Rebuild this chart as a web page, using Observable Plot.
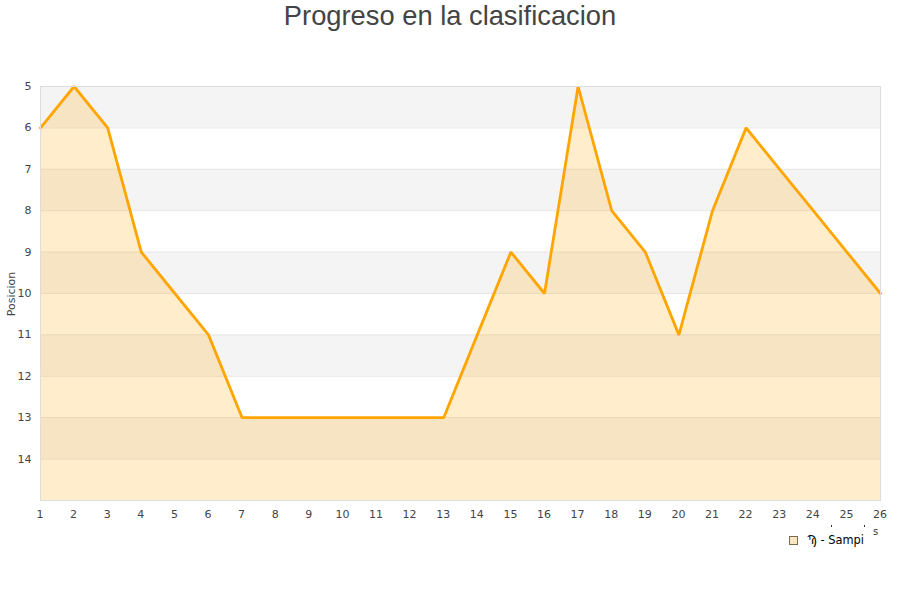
<!DOCTYPE html>
<html>
<head>
<meta charset="utf-8">
<script src="https://cdn.jsdelivr.net/npm/d3@7"></script>
<script src="https://cdn.jsdelivr.net/npm/@observablehq/plot@0.6"></script>
<style>
html,body{margin:0;padding:0;background:#fff;}
#wrap{position:relative;width:900px;height:600px;overflow:hidden;}
#title{position:absolute;left:0;top:0;width:900px;text-align:center;font:27.3px "Liberation Sans",Arial,sans-serif;color:#444;line-height:32px;}
#ylabel{position:absolute;left:10.5px;top:294px;transform:translate(-50%,-50%) rotate(-90deg);font:11px "DejaVu Sans",sans-serif;color:#444;white-space:nowrap;}
.leg{position:absolute;font:11.4px "DejaVu Sans",sans-serif;color:#000;white-space:nowrap;line-height:13px;}
#swatch{position:absolute;left:789px;top:536px;width:7px;height:7px;background:#fbe6c4;border:1px solid #7a6a50;}
.speck{position:absolute;width:1px;height:2px;background:#333;top:525px;}
svg{display:block;}
</style>
</head>
<body>
<div id="wrap">
<div id="chart"></div>
<div id="title">Progreso en la clasificacion</div>
<div id="ylabel">Posicion</div>
<div id="swatch"></div>
<div class="leg" style="left:807px;top:534px;">Ϡ - Sampi</div>
<div class="leg" style="left:873px;top:525px;font-size:10px;color:#333;">s</div>
<div class="speck" style="left:831px;"></div>
<div class="speck" style="left:864px;"></div>
</div>
<script>
const rounds = [1,2,3,4,5,6,7,8,9,10,11,12,13,14,15,16,17,18,19,20,21,22,23,24,25,26];
const positions = [6,5,6,9,10,11,13,13,13,13,13,13,13,11,9,10,5,8,9,11,8,6,7,8,9,10];
const yTicks = [5,6,7,8,9,10,11,12,13,14];
const bandStarts = [5,7,9,11,13];
const bottomPosition = 15;
const rows = rounds.map((r,i)=>({round:r,pos:positions[i]}));

const plot = Plot.plot({
  width:900, height:600,
  marginLeft:40, marginRight:20, marginTop:86, marginBottom:100,
  x:{domain:[1,26], label:null},
  y:{domain:[5,15], reverse:true, label:null},
  style:{fontFamily:"'DejaVu Sans',sans-serif",fontSize:"11px",color:"#444",background:"#fff"},
  marks:[
    Plot.rectY(bandStarts,{x1:1,x2:26,y1:d=>d,y2:d=>d+1,fill:"#f4f4f4"}),
    Plot.ruleY(yTicks,{stroke:"#e6e6e6",strokeWidth:1}),
    Plot.areaY(rows,{x:"round",y1:bottomPosition,y2:"pos",fill:"#ffa500",fillOpacity:0.2}),
    Plot.line(rows,{x:"round",y:"pos",stroke:"#ffa500",strokeWidth:2.8,strokeLinejoin:"bevel"}),
    Plot.frame({stroke:"#dddddd",strokeWidth:1}),
    Plot.axisX({ticks:rounds,tickFormat:d=>String(d),label:null,tickSize:0,tickPadding:10,fontSize:11,fill:"#444",dx:-0.5}),
    Plot.axisY({ticks:yTicks,tickFormat:d=>String(d),label:null,tickSize:0,tickPadding:9,fontSize:11,fill:"#444"})
  ]
});
document.getElementById("chart").appendChild(plot);
</script>
</body>
</html>
